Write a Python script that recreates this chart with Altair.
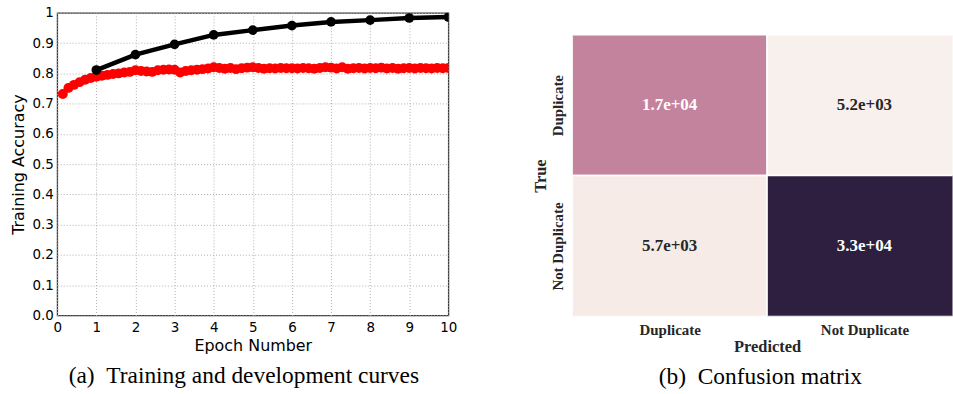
import json
import altair as alt
import pandas as pd

# ---------------- data: (a) training / development curves ----------------
train_epochs = [1, 2, 3, 4, 5, 6, 7, 8, 9, 10]
train_acc = [0.811, 0.862, 0.896, 0.927, 0.943, 0.958, 0.970, 0.976, 0.983, 0.986]

evals_per_epoch = 7
dev_steps = list(range(1, 71))
dev_acc = [
    0.732, 0.752, 0.762, 0.771, 0.779, 0.785, 0.789,
    0.792, 0.795, 0.798, 0.800, 0.803, 0.805, 0.810,
    0.808, 0.806, 0.805, 0.810, 0.812, 0.813, 0.812,
    0.803, 0.808, 0.810, 0.812, 0.814, 0.816, 0.820,
    0.818, 0.815, 0.818, 0.814, 0.817, 0.819, 0.820,
    0.818, 0.815, 0.817, 0.816, 0.818, 0.817, 0.817,
    0.816, 0.818, 0.817, 0.815, 0.818, 0.820, 0.819,
    0.816, 0.820, 0.815, 0.817, 0.818, 0.816, 0.818,
    0.817, 0.819, 0.816, 0.818, 0.815, 0.817, 0.818,
    0.816, 0.818, 0.817, 0.816, 0.818, 0.817, 0.818,
]

x_ticks = [0, 1, 2, 3, 4, 5, 6, 7, 8, 9, 10]
y_ticks = [0.0, 0.1, 0.2, 0.3, 0.4, 0.5, 0.6, 0.7, 0.8, 0.9, 1.0]

# ---------------- data: (b) confusion matrix ----------------
classes = ["Duplicate", "Not Duplicate"]
cm_true = ["Duplicate", "Duplicate", "Not Duplicate", "Not Duplicate"]
cm_pred = ["Duplicate", "Not Duplicate", "Duplicate", "Not Duplicate"]
cm_counts = [17000, 5200, 5700, 33000]
cm_labels = ["1.7e+04", "5.2e+03", "5.7e+03", "3.3e+04"]

train_df = pd.DataFrame({"epoch": train_epochs, "acc": train_acc})
dev_df = pd.DataFrame({"step": dev_steps, "acc": dev_acc})
cm_df = pd.DataFrame({"true": cm_true, "pred": cm_pred, "count": cm_counts, "label": cm_labels})

SANS = "DejaVu Sans"
SERIF = "Liberation Serif"

# ---------------- left chart ----------------
x_enc = alt.X(
    "epoch:Q",
    scale=alt.Scale(domain=[0, 10], nice=False, zero=False),
    axis=alt.Axis(
        values=x_ticks, title="Epoch Number", grid=True, gridColor="#b0b0b0",
        gridDash=[1, 2], gridWidth=1, domain=False, ticks=False, labelOverlap=False,
        labelFont=SANS, labelFontSize=13.5, labelColor="black", labelPadding=5,
        labelFlush=False,
        titleFont=SANS, titleFontSize=16, titleFontWeight="normal", titleColor="black",
        titlePadding=4,
    ),
)
y_enc = alt.Y(
    "acc:Q",
    scale=alt.Scale(domain=[0, 1], nice=False, zero=True),
    axis=alt.Axis(
        values=y_ticks, title="Training Accuracy", grid=True, gridColor="#b0b0b0",
        gridDash=[1, 2], gridWidth=1, domain=False, ticks=False, labelOverlap=False,
        labelExpr="datum.value == 1 ? '1' : format(datum.value, '.1f')",
        labelFont=SANS, labelFontSize=13.5, labelColor="black", labelPadding=4,
        labelFlush=False,
        titleFont=SANS, titleFontSize=16, titleFontWeight="normal", titleColor="black",
        titlePadding=5,
    ),
)

dev_base = alt.Chart(dev_df).transform_calculate(
    epoch=f"datum.step / {evals_per_epoch}"
)
dev_line = dev_base.mark_line(color="#ff0000", strokeWidth=4, clip=True).encode(x=x_enc, y=y_enc)
dev_pts = dev_base.mark_circle(color="#ff0000", size=100, opacity=1, clip=True).encode(x=x_enc, y=y_enc)

train_base = alt.Chart(train_df)
train_line = train_base.mark_line(color="black", strokeWidth=4.5, clip=True).encode(x=x_enc, y=y_enc)
train_pts = train_base.mark_circle(color="black", size=95, opacity=1, clip=True).encode(x=x_enc, y=y_enc)

left = alt.layer(dev_line, dev_pts, train_line, train_pts).properties(
    width=393,
    height=304,
    view=alt.ViewBackground(stroke="#3a3a3a", strokeWidth=1.3),
    title=alt.TitleParams(
        "(a)\u00a0\u00a0Training and development curves", orient="bottom", anchor="middle",
        font=SERIF, fontSize=23.5, fontWeight="normal", color="black", offset=10, dx=-9,
    ),
)

# ---------------- right chart ----------------
cls_js = json.dumps(classes)
cell_w = 195.7
cell_h = 141.5
vis_w = 382
right_h = 305

cm_base = alt.Chart(cm_df).transform_calculate(
    col=f"indexof({cls_js}, datum.pred)",
    row=f"1 - indexof({cls_js}, datum.true)",
).transform_calculate(
    col2="datum.col + 1",
    row2="datum.row + 1",
    cx="datum.col + 0.5",
    cy="datum.row + 0.5",
)

cx_enc = alt.X(
    "col:Q",
    scale=alt.Scale(domain=[0, vis_w / cell_w], nice=False, zero=False),
    axis=alt.Axis(
        values=[0.5, 1.5], grid=False, domain=False, ticks=False, labelOverlap=False,
        labelExpr=f"datum.value < 1 ? '{classes[0]}' : '{classes[1]}'",
        labelFont=SERIF, labelFontWeight="bold", labelFontSize=15, labelColor="#262626",
        labelPadding=6, title="Predicted", titleX=cell_w, titleFont=SERIF,
        titleFontWeight="bold", titleFontSize=16.5, titleColor="#262626", titlePadding=1,
    ),
)
cy_enc = alt.Y(
    "row:Q",
    scale=alt.Scale(domain=[0, right_h / cell_h], nice=False, zero=False),
    axis=alt.Axis(
        values=[0.5, 1.5], grid=False, domain=False, ticks=False, labelOverlap=False,
        labelExpr=f"datum.value < 1 ? '{classes[1]}' : '{classes[0]}'",
        labelAngle=270, labelAlign="center", labelBaseline="bottom",
        labelFont=SERIF, labelFontWeight="bold", labelFontSize=15, labelColor="#262626",
        labelPadding=7, title="True", titleY=right_h - cell_h, titleFont=SERIF,
        titleFontWeight="bold", titleFontSize=16.5, titleColor="#262626", titlePadding=2,
    ),
)

cells = cm_base.mark_rect(stroke="white", strokeWidth=1.5, clip=True).encode(
    x=cx_enc,
    x2="col2:Q",
    y=cy_enc,
    y2="row2:Q",
    color=alt.Color(
        "count:Q",
        scale=alt.Scale(domain=[5200, 17000, 33000], range=["#f8f0ec", "#c4839d", "#2e1f40"]),
        legend=None,
    ),
)
texts = cm_base.mark_text(font=SERIF, fontWeight="bold", fontSize=17, clip=True).encode(
    x=alt.X("cx:Q", scale=alt.Scale(domain=[0, vis_w / cell_w], nice=False, zero=False)),
    y=alt.Y("cy:Q", scale=alt.Scale(domain=[0, right_h / cell_h], nice=False, zero=False)),
    text="label:N",
    color=alt.condition("datum.count > 10000", alt.value("white"), alt.value("#262626")),
)

right = alt.layer(cells, texts).properties(
    width=vis_w,
    height=right_h,
    title=alt.TitleParams(
        "(b)\u00a0\u00a0Confusion matrix", orient="bottom", anchor="middle",
        font=SERIF, fontSize=23.5, fontWeight="normal", color="black", offset=10, dx=-2,
    ),
)

chart = alt.hconcat(left, right, spacing=124.5, bounds="flush").properties(
    padding={"left": 9.5, "top": 4, "right": 0, "bottom": 0},
    background="white",
).configure_view(strokeWidth=0)

chart.save("out.html", embed_options={"renderer": "svg", "actions": False})
